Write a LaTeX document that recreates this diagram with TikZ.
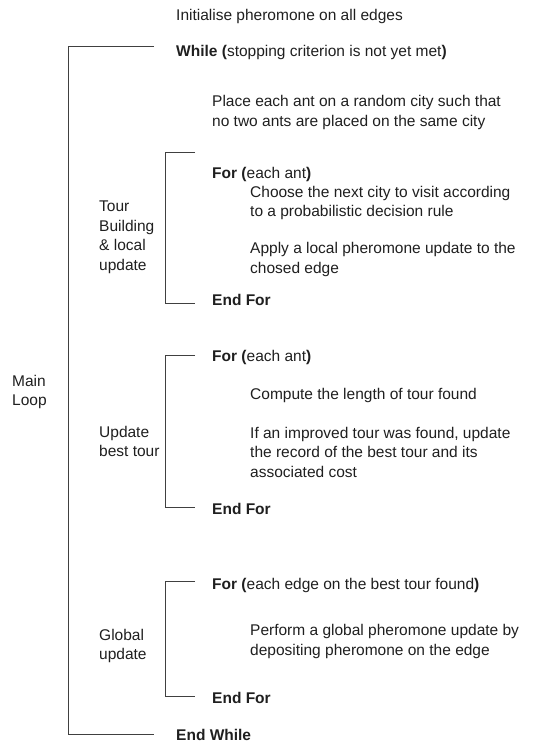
\documentclass[tikz,border=0pt]{standalone}
\usepackage{fontspec}
\setmainfont{Liberation Sans}

\begin{document}
\begin{tikzpicture}[x=1pt,y=-1pt,
   txt/.style={anchor=west,inner sep=0pt,align=left,text=black!88,
     font=\fontsize{15.5}{19.5}\selectfont},
   brk/.style={draw=black!75,line width=0.9pt}]
   \useasboundingbox (0,0) rectangle (533,743);
   % statements
   \node[txt] (init)     at (176,16)    {Initialise pheromone on all edges};
   \node[txt] (while)    at (176,52.5)  {\textbf{While (}stopping criterion is not yet met\textbf{)}};
   \node[txt] (place)    at (212,112.3) {Place each ant on a random city such that\\no two ants are placed on the same city};
   \node[txt] (forA)     at (212,174.7) {\textbf{For (}each ant\textbf{)}};
   \node[txt] (choose)   at (250,203)   {Choose the next city to visit according\\to a probabilistic decision rule};
   \node[txt] (apply)    at (250,259.5) {Apply a local pheromone update to the\\chosed edge};
   \node[txt] (endforA)  at (212,300)   {\textbf{End For}};
   \node[txt] (forB)     at (212,357.7) {\textbf{For (}each ant\textbf{)}};
   \node[txt] (compute)  at (250,395)   {Compute the length of tour found};
   \node[txt] (improved) at (250,452.3) {If an improved tour was found, update\\the record of the best tour and its\\associated cost};
   \node[txt] (endforB)  at (212,508.7) {\textbf{End For}};
   \node[txt] (forC)     at (212,585)   {\textbf{For (}each edge on the best tour found\textbf{)}};
   \node[txt] (perform)  at (250,641.5) {Perform a global pheromone update by\\depositing pheromone on the edge};
   \node[txt] (endforC)  at (212,697.7) {\textbf{End For}};
   \node[txt] (endwhile) at (176,735)   {\textbf{End While}};
   % labels of the brackets
   \node[txt] (mainlbl)  at (12,392)    {Main\\Loop};
   \node[txt] (tourlbl)  at (99,237.5)  {Tour\\Building\\\& local\\update};
   \node[txt] (bestlbl)  at (99,441.5)  {Update\\best tour};
   \node[txt] (globlbl)  at (99,646)    {Global\\update};
   % brackets
   \coordinate (mainT) at (154,46.2);
   \coordinate (mainB) at (154,734.3);
   \draw[brk] (mainT) -- ++(-86,0) |- (mainB);
   \foreach \b/\t/\e in {tour/152/303,best/355.7/507.7,glob/581.7/696.7} {
    \coordinate (\b T) at (195,\t);
    \coordinate (\b B) at (195,\e);
    \draw[brk] (\b T) -- ++(-30,0) |- (\b B);
   }
\end{tikzpicture}
\end{document}
